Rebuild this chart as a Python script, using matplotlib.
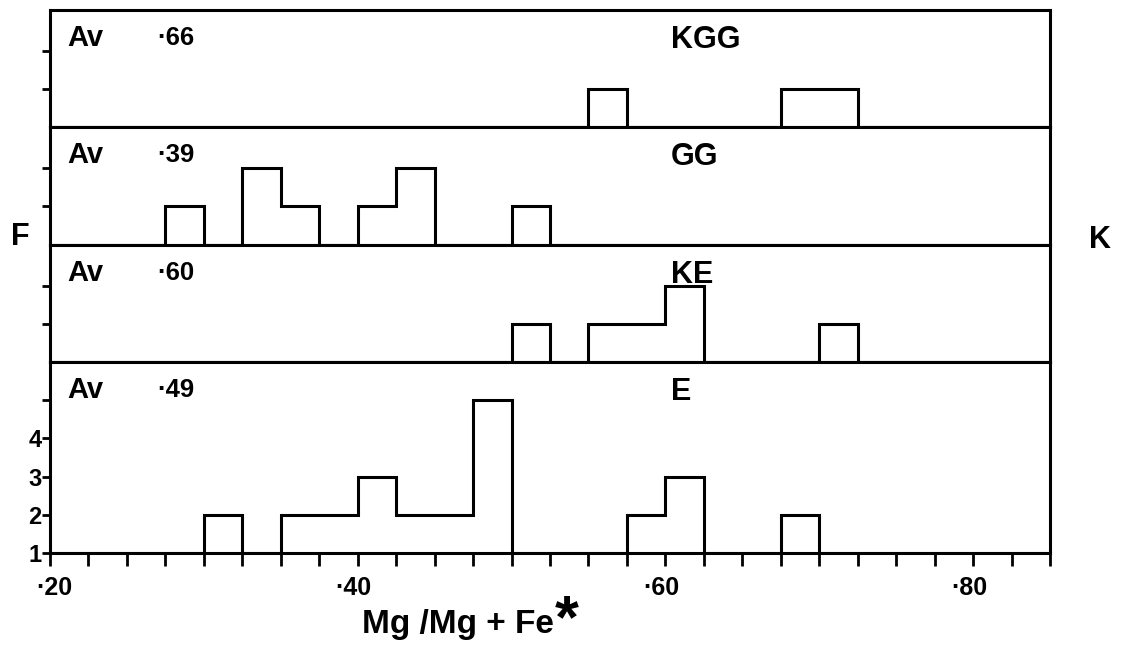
import numpy as np
import matplotlib

matplotlib.use("Agg")
import matplotlib.pyplot as plt

# bin grid of the histograms (Mg/Mg+Fe, step .025)
bin_edges = [0.200, 0.225, 0.250, 0.275, 0.300, 0.325, 0.350, 0.375, 0.400,
             0.425, 0.450, 0.475, 0.500, 0.525, 0.550, 0.575, 0.600, 0.625,
             0.650, 0.675, 0.700, 0.725, 0.750, 0.775, 0.800, 0.825, 0.850]

# occupied bins (left edge) and their frequencies, top panel first
panel_names = ["KGG", "GG", "KE", "E"]
panel_avg = ["·66", "·39", "·60", "·49"]
kgg_left = [0.550, 0.675, 0.700]
kgg_count = [1, 1, 1]
gg_left = [0.275, 0.325, 0.350, 0.400, 0.425, 0.500]
gg_count = [1, 2, 1, 1, 2, 1]
ke_left = [0.500, 0.550, 0.575, 0.600, 0.700]
ke_count = [1, 1, 1, 2, 1]
e_left = [0.300, 0.350, 0.375, 0.400, 0.425, 0.450, 0.475, 0.575, 0.600, 0.675]
e_count = [1, 1, 1, 2, 1, 1, 4, 1, 2, 1]

x_ticks = bin_edges
x_major = [0.20, 0.40, 0.60, 0.80]
x_major_labels = ["·20", "·40", "·60", "·80"]
e_ytick_labels = ["1", "2", "3", "4", ""]

plt.rcParams["font.family"] = ["Liberation Sans", "DejaVu Sans"]
plt.rcParams["font.weight"] = "bold"

LW = 2.2
fig = plt.figure(figsize=(11.3, 6.5), dpi=100)
L, R = 50 / 1130, 1050 / 1130
top, bottom = 1 - 10 / 650, 1 - 553 / 650
ratios = [3.07, 3.07, 3.07, 5.0]
gs = fig.add_gridspec(4, 1, height_ratios=ratios, hspace=0,
                      left=L, right=R, top=top, bottom=bottom)


def to_grid(lefts, counts):
    vals = np.zeros(len(bin_edges) - 1)
    for l, c in zip(lefts, counts):
        vals[int(round((l - bin_edges[0]) / 0.025))] = c
    return vals


series = [(kgg_left, kgg_count), (gg_left, gg_count),
          (ke_left, ke_count), (e_left, e_count)]

axes = []
for i, (lefts, counts) in enumerate(series):
    ax = fig.add_subplot(gs[i])
    axes.append(ax)
    ax.stairs(to_grid(lefts, counts), bin_edges, baseline=0,
              color="black", lw=LW)
    ax.set_xlim(bin_edges[0], bin_edges[-1])
    ax.set_ylim(0, ratios[i])
    for s in ax.spines.values():
        s.set_linewidth(LW)
    ax.tick_params(axis="y", direction="out", length=6, width=2,
                   labelsize=17, pad=0)
    if i < 3:
        ax.set_yticks([1, 2])
        ax.set_yticklabels([])
        ax.set_xticks([])
    else:
        ax.set_yticks([0, 1, 2, 3, 4])
        ax.set_yticklabels(e_ytick_labels)
        ax.set_xticks(x_ticks)
        ax.set_xticklabels(["" for _ in x_ticks])
        ax.tick_params(axis="x", direction="out", length=9, width=2)
        for xv, lab in zip(x_major, x_major_labels):
            ax.annotate(lab, xy=(xv, 0), xycoords="data",
                        xytext=(4 if xv == 0.20 else -4, -35),
                        textcoords="offset pixels",
                        ha="center", va="center", fontsize=18)

    ax.annotate("Av", xy=(0.211, 1), xycoords=("data", "axes fraction"),
                xytext=(0, -28), textcoords="offset pixels",
                ha="left", va="center", fontsize=21)
    ax.annotate(panel_avg[i], xy=(0.270, 1), xycoords=("data", "axes fraction"),
                xytext=(0, -28), textcoords="offset pixels",
                ha="left", va="center", fontsize=18.5)
    ax.annotate(panel_names[i], xy=(0.6035, 1), xycoords=("data", "axes fraction"),
                xytext=(0, -30), textcoords="offset pixels",
                ha="left", va="center", fontsize=22)

lab = fig.text(362 / 1130, 1 - 624 / 650, "Mg /Mg + Fe", fontsize=24,
               ha="left", va="center")
fig.canvas.draw()
ext = lab.get_window_extent()
fig.text((ext.x1 + 1) / 1130, (650 - 622) / 650, "*", fontsize=44,
         ha="left", va="center")

fig.text(20 / 1130, 1 - 237 / 650, "F", fontsize=22, ha="center", va="center")
fig.text(1100 / 1130, 1 - 240 / 650, "K", fontsize=22, ha="center", va="center")

fig.savefig("out.png", dpi=100)
